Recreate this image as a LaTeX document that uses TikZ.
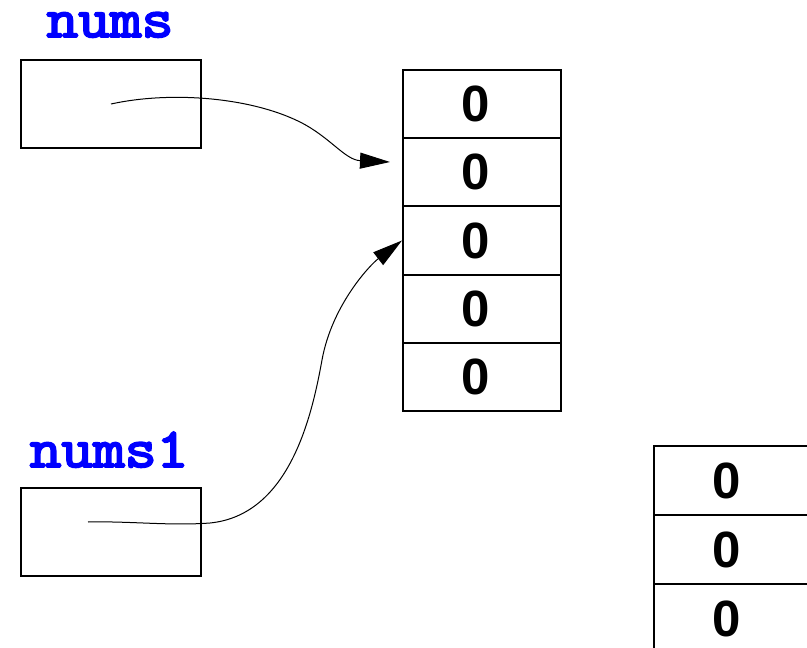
\documentclass[tikz,border=0pt]{standalone}
\usepackage{fontspec}
\setmainfont{Liberation Sans}
\newfontfamily\codefont[FakeBold=3.5]{Latin Modern Mono}
\usetikzlibrary{arrows.meta}
\definecolor{varblue}{RGB}{0,0,255}
\tikzset{
  varbox/.style={draw, line width=2pt, minimum width=180pt, minimum height=88pt, inner sep=0pt},
  varname/.style={text=varblue, font=\codefont\fontsize{56}{56}\selectfont, anchor=base,
                  inner sep=0pt, xscale=1.1, text height=26pt},
  cell/.style={draw, line width=2pt, minimum width=158pt, minimum height=68.2pt, inner sep=0pt,
               font=\bfseries\fontsize{51}{51}\selectfont},
  ref/.style={line width=1pt, -{Triangle[length=30pt, width=16pt]}}
}
\newcommand{\zerocell}{0\hspace*{13pt}}
\begin{document}
\begin{tikzpicture}[x=1pt, y=-1pt]
  \useasboundingbox (0,0) rectangle (807,648);
  \clip (0,0) rectangle (807,648);

  % reference variables
  \node[varname] (lab1) at (110,37) {nums};
  \node[varbox] (nums) at (111,104) {};
  \node[varname] (lab2) at (109,467) {nums1};
  \node[varbox] (nums1) at (111,532) {};

  % array of five zeros
  \foreach \i in {1,...,5} {
    \node[cell] (a\i) at (482, {70 + 68.2*(\i-0.5)}) {\zerocell};
  }

  % second array, partly off the right and bottom edges
  \foreach \i in {1,...,3} {
    \node[cell] (b\i) at (733, {446 + 69*(\i-0.5)}) {\zerocell};
  }

  % pointers
  \coordinate (t1) at (390,162);
  \coordinate (s2) at (88,522);
  \draw[ref] (nums.center) .. controls (170,91) and (250,97) .. (300,122)
     .. controls (330,137) and (345,160) .. (t1);
  \draw[ref] (s2) .. controls (130,521) and (170,526) .. (210,523)
     .. controls (290,515) and (312,415) .. (322,360)
     .. controls (332,305) and (370,265) .. (a3.west);
\end{tikzpicture}
\end{document}
